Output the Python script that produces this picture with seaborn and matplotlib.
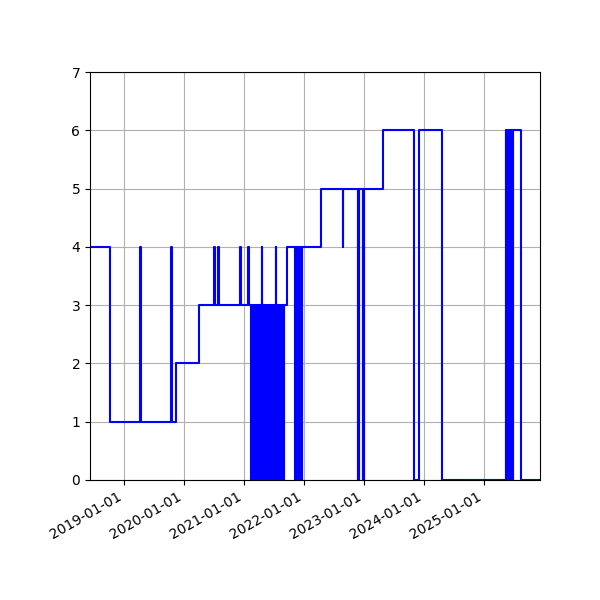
import pandas as pd
import matplotlib
matplotlib.use('Agg')
import matplotlib.pyplot as plt
import matplotlib.dates as mdates
import seaborn as sns

# level changes: the series holds each level until the next date
change_dates = [
    '2018-06-08', '2018-10-06', '2019-04-08', '2019-04-13', '2019-10-17', '2019-10-18',
    '2019-11-15', '2020-03-31', '2020-07-04', '2020-07-09', '2020-07-25', '2020-07-30',
    '2020-12-08', '2020-12-14', '2021-01-23', '2021-01-29',
    '2021-02-12', '2021-02-17', '2021-02-22', '2021-02-27', '2021-03-04', '2021-03-09',
    '2021-03-14', '2021-03-19', '2021-03-24', '2021-03-29', '2021-04-03', '2021-04-08',
    '2021-04-13', '2021-04-18', '2021-04-19', '2021-04-23', '2021-04-28', '2021-05-03',
    '2021-05-08', '2021-05-13', '2021-05-18', '2021-05-23', '2021-05-28', '2021-06-02',
    '2021-06-07', '2021-06-12', '2021-06-17', '2021-06-22', '2021-06-27', '2021-07-02',
    '2021-07-07', '2021-07-15', '2021-07-16', '2021-07-21', '2021-07-26', '2021-07-31',
    '2021-08-05', '2021-08-10', '2021-08-15', '2021-08-20', '2021-08-25', '2021-08-30',
    '2021-09-03', '2021-09-17',
    '2021-11-07', '2021-11-12', '2021-11-17', '2021-11-22', '2021-11-27', '2021-12-02',
    '2021-12-07', '2021-12-12', '2021-12-17', '2021-12-21',
    '2022-04-12', '2022-08-24', '2022-08-25',
    '2022-11-26', '2022-11-28', '2022-11-30', '2022-12-01', '2022-12-27', '2022-12-28',
    '2022-12-30', '2022-12-31',
    '2023-04-29', '2023-11-01', '2023-12-02', '2024-04-22',
    '2025-05-14', '2025-05-18', '2025-05-22', '2025-05-26', '2025-05-30', '2025-06-03',
    '2025-06-07', '2025-06-11', '2025-06-15', '2025-06-19', '2025-06-23', '2025-06-26',
    '2025-06-28', '2025-08-14', '2025-12-08',
]
levels = [
    4, 1, 4, 1, 4, 1,
    2, 3, 4, 3, 4, 3,
    4, 3, 4, 3,
    0, 3, 0, 3, 0, 3,
    0, 3, 0, 3, 0, 3,
    0, 4, 3, 0, 3, 0,
    3, 0, 3, 0, 3, 0,
    3, 0, 3, 0, 3, 0,
    3, 4, 3, 0, 3, 0,
    3, 0, 3, 0, 3, 0,
    3, 4,
    0, 4, 0, 4, 0, 4,
    0, 4, 0, 4,
    5, 4, 5,
    0, 5, 0, 5, 0, 5,
    0, 5,
    6, 0, 6, 0,
    6, 0, 6, 0, 6, 0,
    6, 0, 6, 0, 6, 0,
    6, 0, 0,
]

df = pd.DataFrame({'date': pd.to_datetime(change_dates), 'level': levels})

fig, ax = plt.subplots(figsize=(6, 6), dpi=100)
sns.lineplot(data=df, x='date', y='level', drawstyle='steps-post', color='blue',
             linewidth=1.5, estimator=None, ax=ax)

ax.set_xlim(df['date'].min(), df['date'].max())
ax.set_ylim(0, 7)
ax.set_xlabel('')
ax.set_ylabel('')
ax.xaxis.set_major_locator(mdates.YearLocator())
ax.xaxis.set_major_formatter(mdates.DateFormatter('%Y-%m-%d'))
ax.grid(True)
fig.autofmt_xdate()
plt.subplots_adjust(left=0.15, right=0.9, top=0.88, bottom=0.2)
plt.savefig('out.png')
plt.close()
